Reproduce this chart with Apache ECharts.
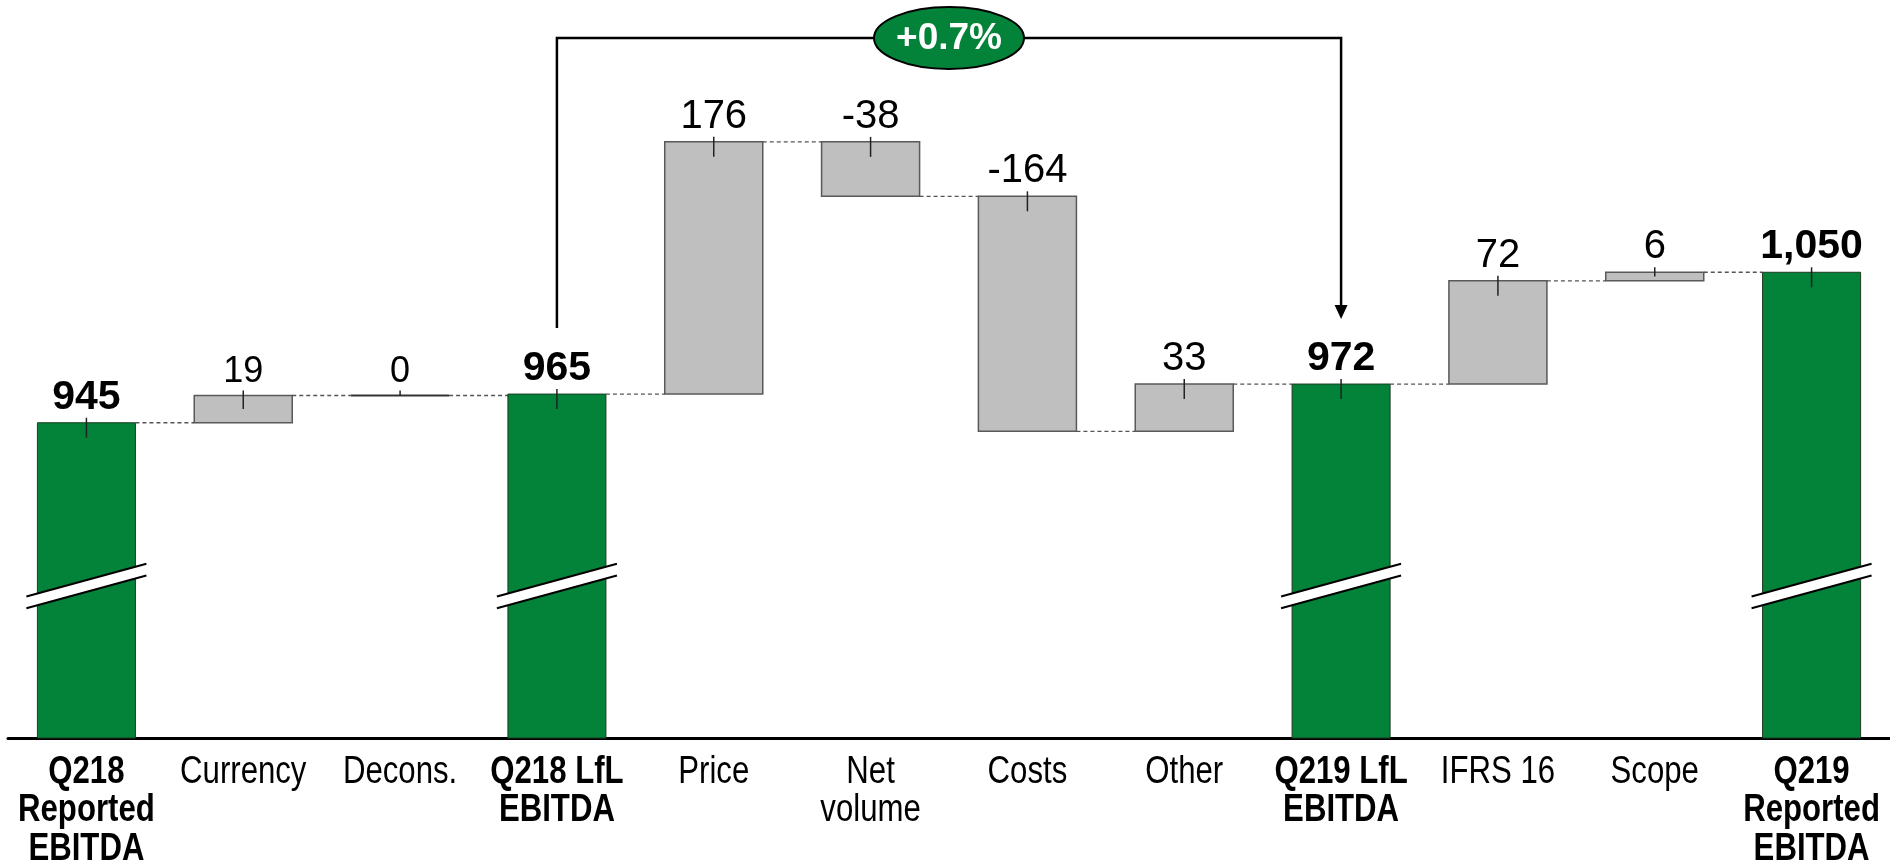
<!DOCTYPE html>
<html><head><meta charset="utf-8">
<script src="https://cdn.jsdelivr.net/npm/echarts@6/dist/echarts.min.js"></script>
<style>html,body{margin:0;padding:0;background:#fff}#c{width:1890px;height:860px}</style>
</head><body><div id="c"></div>
<script>
// ---- data ----
const categories = ['Q218\nReported\nEBITDA','Currency','Decons.','Q218 LfL\nEBITDA','Price','Net\nvolume','Costs','Other','Q219 LfL\nEBITDA','IFRS 16','Scope','Q219\nReported\nEBITDA'];
const values = [945, 19, 0, 965, 176, -38, -164, 33, 972, 72, 6, 1050];
const isTotal = [true, false, false, true, false, false, false, false, true, false, false, true];
const yMin = 725, yMax = 1240;
const bracketFrom = 'Q218 LfL\nEBITDA';
const bracketTo = 'Q219 LfL\nEBITDA';
const bracketLabel = '+0.7%';

// ---- style ----
const GREEN = '#038239', GRAY = '#BFBFBF';
const VALUE_FONT = "'Liberation Sans', Arial, sans-serif";
const smallLabel = new Set(['Currency', 'Decons.']);

// running levels
let level = 0;
const items = values.map((v, i) => {
  let lo, hi, end;
  if (isTotal[i]) { lo = 0; hi = v; end = v; }
  else { end = level + v; lo = Math.min(level, end); hi = Math.max(level, end); }
  level = end;
  return [i, lo, hi, end, v, isTotal[i] ? 1 : 0];
});
const fi = categories.indexOf(bracketFrom), ti = categories.indexOf(bracketTo);

function renderBar(params, api) {
  const i = api.value(0), lo = api.value(1), hi = api.value(2), end = api.value(3), v = api.value(4), tot = api.value(5);
  const cs = params.coordSys, bottom = cs.y + cs.height;
  const band = api.size([1, 0])[0], w = band * 0.625;
  const p = api.coord([i, hi]); const cx = p[0], yTop = p[1];
  const yBot = Math.min(api.coord([i, lo])[1], bottom);
  const ch = [];
  if (yBot - yTop < 0.5) {
    ch.push({type: 'line', shape: {x1: cx - w / 2, y1: yTop, x2: cx + w / 2, y2: yTop}, style: {stroke: '#333', lineWidth: 2}});
  } else {
    ch.push({type: 'rect', shape: {x: cx - w / 2, y: yTop, width: w, height: yBot - yTop},
      style: {fill: tot ? GREEN : GRAY, stroke: tot ? '#1f3b22' : '#595959', lineWidth: tot ? 1 : 1.5}});
  }
  // connector
  if (i < categories.length - 1) {
    const yc = api.coord([i, end])[1];
    ch.push({type: 'line', shape: {x1: cx + w / 2, y1: yc, x2: cx + band - w / 2, y2: yc},
      style: {stroke: '#555', lineWidth: 1.3, lineDash: [4, 3]}});
  }
  // tick
  ch.push({type: 'line', shape: {x1: cx, y1: yTop - 5, x2: cx, y2: yTop + Math.min(15, (yBot - yTop) / 2)},
    style: {stroke: '#222', lineWidth: 1.5}});
  // break band
  if (tot) {
    const bx0 = cx - w / 2 - 11, bx1 = cx + w / 2 + 11, by = bottom - 152;
    const rise = 0.272 * (bx1 - bx0) / 2, gap = 5.9;
    ch.push({type: 'polygon', shape: {points: [[bx0, by - gap + rise], [bx1, by - gap - rise], [bx1, by + gap - rise], [bx0, by + gap + rise]]},
      style: {fill: '#fff'}});
    ch.push({type: 'line', shape: {x1: bx0, y1: by - gap + rise, x2: bx1, y2: by - gap - rise}, style: {stroke: '#000', lineWidth: 2}});
    ch.push({type: 'line', shape: {x1: bx0, y1: by + gap + rise, x2: bx1, y2: by + gap - rise}, style: {stroke: '#000', lineWidth: 2}});
  }
  // value label
  const name = categories[i];
  ch.push({type: 'text', x: cx, y: yTop - 5, style: {
    text: tot ? v.toLocaleString('en-US') : String(v),
    fill: '#000', fontFamily: VALUE_FONT, fontWeight: tot ? 'bold' : 'normal',
    fontSize: tot ? 41 : (smallLabel.has(name) ? 36 : 40), align: 'center', verticalAlign: 'bottom'}});
  // category label (condensed, like Arial Narrow)
  ch.push({type: 'text', x: cx, y: bottom + 15, scaleX: 0.82, style: {
    text: name, fill: '#000', fontFamily: VALUE_FONT, fontWeight: tot ? 'bold' : 'normal',
    fontSize: 38, lineHeight: 38.5, align: 'center', verticalAlign: 'top'}});
  return {type: 'group', children: ch};
}

function renderBracket(params, api) {
  const cs = params.coordSys;
  const a = api.coord([api.value(0), api.value(2)]), b = api.coord([api.value(1), api.value(3)]);
  const x1 = a[0], x2 = b[0], yLine = cs.y + 38;
  const yStart = a[1] - 66, yTip = b[1] - 65;
  const mx = (x1 + x2) / 2;
  return {type: 'group', children: [
    {type: 'polyline', shape: {points: [[x1, yStart], [x1, yLine], [x2, yLine], [x2, yTip - 13]]}, style: {stroke: '#000', lineWidth: 2.5, fill: null}},
    {type: 'polygon', shape: {points: [[x2 - 6.5, yTip - 14], [x2 + 6.5, yTip - 14], [x2, yTip]]}, style: {fill: '#000'}},
    {type: 'ellipse', shape: {cx: mx, cy: yLine, rx: 75, ry: 31}, style: {fill: GREEN, stroke: '#000', lineWidth: 2}},
    {type: 'text', x: mx, y: yLine + 1, style: {text: bracketLabel, fill: '#fff', fontFamily: VALUE_FONT, fontWeight: 'bold', fontSize: 37, align: 'center', verticalAlign: 'middle'}}
  ]};
}

const chart = echarts.init(document.getElementById('c'), null, {renderer: 'canvas'});
chart.setOption({
  animation: false,
  grid: {left: 8, right: 0, top: 0, height: 738},
  xAxis: {
    type: 'category', data: categories,
    axisLine: {lineStyle: {color: '#000', width: 3}}, axisTick: {show: false},
    axisLabel: {show: false}
  },
  yAxis: {type: 'value', min: yMin, max: yMax, show: false, splitLine: {show: false}},
  series: [
    {type: 'custom', renderItem: renderBar, data: items, encode: {x: 0, y: 2}, clip: false, z: 2},
    {type: 'custom', renderItem: renderBracket, data: [[fi, ti, values[fi], values[ti]]], encode: {x: 0, y: 2}, clip: false, z: 3}
  ]
});
</script></body></html>
